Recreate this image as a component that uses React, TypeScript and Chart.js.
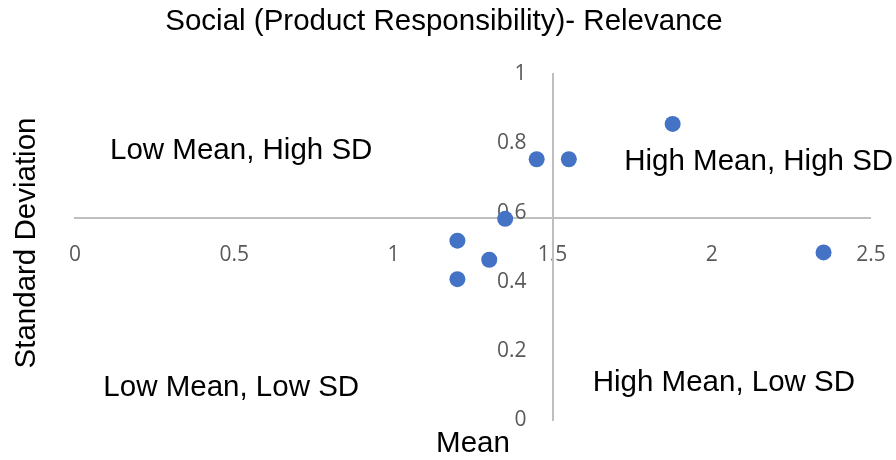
import { useEffect, useRef } from "react";
import { Chart, registerables } from "chart.js";

Chart.register(...registerables);

// Mean / standard deviation of each product-responsibility item
const meanValues = [1.877, 1.45, 1.551, 1.351, 1.201, 1.301, 1.201, 2.351];
const sdValues = [0.856, 0.754, 0.754, 0.582, 0.519, 0.464, 0.408, 0.485];

// Axis tick values
const meanTicks = [0, 0.5, 1, 1.5, 2, 2.5];
const sdTicks = [0, 0.2, 0.4, 0.6, 0.8, 1];

// Where the two axes cross (quadrant boundaries)
const meanCross = 1.5;
const sdCross = 0.585;

const chartTitle = "Social (Product Responsibility)- Relevance";
const xTitle = "Mean";
const yTitle = "Standard Deviation";
const quadrantNames = [
  "Low Mean, High SD",
  "High Mean, High SD",
  "Low Mean, Low SD",
  "High Mean, Low SD",
];

// Quadrant label anchors (left edge, baseline) in axis units
const quadrantAnchors = [
  { x: 0.11, y: 0.755 },
  { x: 1.725, y: 0.723 },
  { x: 0.089, y: 0.071 },
  { x: 1.626, y: 0.085 },
];

const TEXT_FONT = '29.5px "Liberation Sans", Arial, sans-serif';
const TICK_FONT = { family: '"Open Sans", sans-serif', size: 21 };
const AXIS_GRAY = "#BFBFBF";
const TICK_GRAY = "#595959";
const POINT_BLUE = "#4472C4";
const Y_LABEL_GAP = 26;

// Labels of an axis placed at a value sit flush against the axis line;
// move the vertical axis labels to the left so they clear it.
const labelGapPlugin = {
  id: "yLabelGap",
  beforeDraw(chart: any) {
    const ys = chart.scales.y;
    const items = ys.getLabelItems(chart.chartArea);
    items.forEach((item: any) => {
      if (!item.__shifted) {
        item.options.translation[0] -= Y_LABEL_GAP;
        item.__shifted = true;
      }
    });
  },
};

const textPlugin = {
  id: "quadrantText",
  afterDraw(chart: any) {
    const { ctx, scales } = chart;
    const xs = scales.x;
    const ys = scales.y;
    ctx.save();
    ctx.fillStyle = "#000000";
    ctx.font = TEXT_FONT;
    ctx.textBaseline = "alphabetic";

    // chart title
    ctx.textAlign = "center";
    ctx.fillText(chartTitle, 444, 30);

    // horizontal axis title
    ctx.fillText(xTitle, 473, 452);

    // vertical axis title
    ctx.save();
    ctx.translate(35, 243);
    ctx.rotate(-Math.PI / 2);
    ctx.fillText(yTitle, 0, 0);
    ctx.restore();

    // quadrant names
    ctx.textAlign = "left";
    quadrantNames.forEach((name, i) => {
      const a = quadrantAnchors[i];
      ctx.fillText(name, xs.getPixelForValue(a.x), ys.getPixelForValue(a.y));
    });
    ctx.restore();
  },
};

const plainLabel = (v: number | string) => String(Number(v));

export default function App() {
  const canvasRef = useRef<HTMLCanvasElement | null>(null);

  useEffect(() => {
    document.body.style.margin = "0";
    const canvas = canvasRef.current;
    if (!canvas) return;

    const chart = new Chart(canvas, {
      type: "scatter",
      data: {
        datasets: [
          {
            label: "Relevance",
            data: meanValues.map((m, i) => ({ x: m, y: sdValues[i] })),
            backgroundColor: POINT_BLUE,
            borderColor: POINT_BLUE,
            borderWidth: 0,
            pointRadius: 8,
            pointHoverRadius: 8,
          },
        ],
      },
      options: {
        responsive: false,
        animation: false,
        devicePixelRatio: 1,
        layout: { padding: { left: 75, right: 25, top: 74, bottom: 39.5 } },
        plugins: {
          legend: { display: false },
          title: { display: false },
          tooltip: { enabled: false },
        },
        scales: {
          x: {
            type: "linear",
            min: 0,
            max: 2.5,
            position: { y: sdCross },
            afterBuildTicks: (s: any) => {
              s.ticks = meanTicks.map((v) => ({ value: v }));
            },
            afterFit: (s: any) => {
              s.paddingLeft = 0;
              s.paddingRight = 0;
              s.paddingTop = 0;
              s.paddingBottom = 0;
            },
            grid: { display: false, drawTicks: false, lineWidth: 0 },
            border: { display: true, color: AXIS_GRAY, width: 2 },
            ticks: {
              color: TICK_GRAY,
              font: TICK_FONT,
              padding: 25,
              maxRotation: 0,
              autoSkip: false,
              callback: plainLabel,
            },
          },
          y: {
            type: "linear",
            min: 0,
            max: 1,
            position: { x: meanCross },
            afterBuildTicks: (s: any) => {
              s.ticks = sdTicks.map((v) => ({ value: v }));
            },
            afterFit: (s: any) => {
              s.paddingLeft = 0;
              s.paddingRight = 0;
              s.paddingTop = 0;
              s.paddingBottom = 0;
            },
            grid: { display: false, drawTicks: false, lineWidth: 0 },
            border: { display: true, color: AXIS_GRAY, width: 2 },
            ticks: {
              color: TICK_GRAY,
              font: TICK_FONT,
              autoSkip: false,
              callback: plainLabel,
            },
          },
        },
      },
      plugins: [labelGapPlugin, textPlugin],
    });

    return () => chart.destroy();
  }, []);

  return (
    <div style={{ width: 896, height: 460, background: "#ffffff" }}>
      <canvas ref={canvasRef} width={896} height={460} />
    </div>
  );
}
